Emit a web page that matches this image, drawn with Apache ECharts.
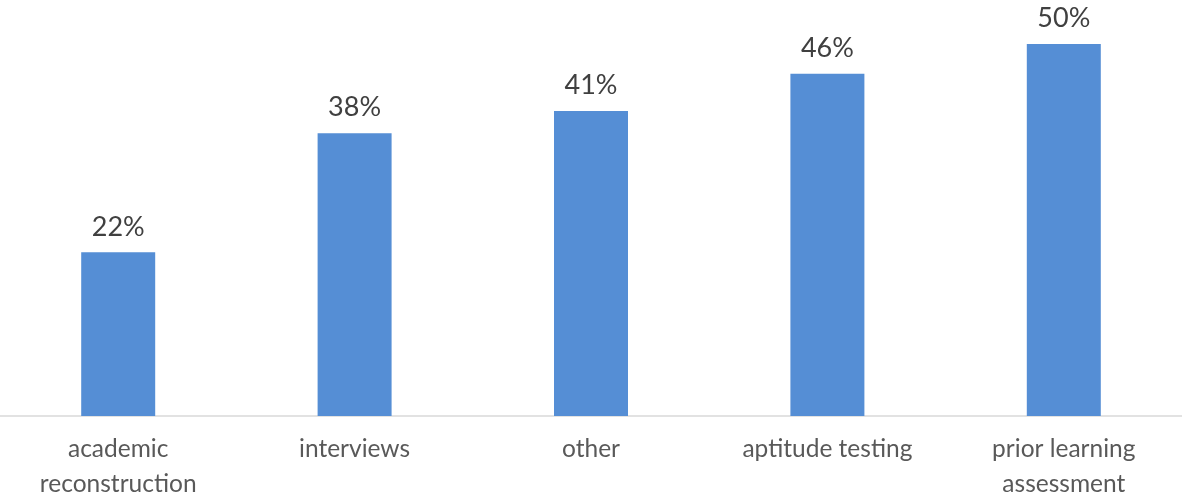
<!DOCTYPE html>
<html><head><meta charset="utf-8">
<script src="https://cdn.jsdelivr.net/npm/echarts@6/dist/echarts.min.js"></script>
<style>html,body{margin:0;padding:0;background:#fff}#c{width:1182px;height:497px}</style>
</head><body><div id="c"></div>
<script>
const categories = ['academic\nreconstruction', 'interviews', 'other', 'aptitude testing', 'prior learning\nassessment'];
const values = [22, 38, 41, 46, 50];
const chart = echarts.init(document.getElementById('c'));
chart.setOption({
  animation: false,
  grid: {left: 0, right: 0, top: 44, bottom: 81, containLabel: false, outerBoundsMode: 'none'},
  xAxis: {
    type: 'category', data: categories,
    axisLine: {lineStyle: {color: '#d9d9d9', width: 1.5}},
    axisTick: {show: false},
    axisLabel: {color: '#595959', fontFamily: 'Lato', fontSize: 24.5, margin: 16, lineHeight: 35, interval: 0}
  },
  yAxis: {type: 'value', min: 0, max: 50, show: false, splitLine: {show: false}},
  series: [{
    type: 'bar', data: values, barWidth: '31.3%',
    itemStyle: {color: '#558ED5'},
    label: {show: true, position: 'top', distance: 12, color: '#404040', fontFamily: 'Lato', fontSize: 27, formatter: '{c}%'}
  }]
});
</script></body></html>
